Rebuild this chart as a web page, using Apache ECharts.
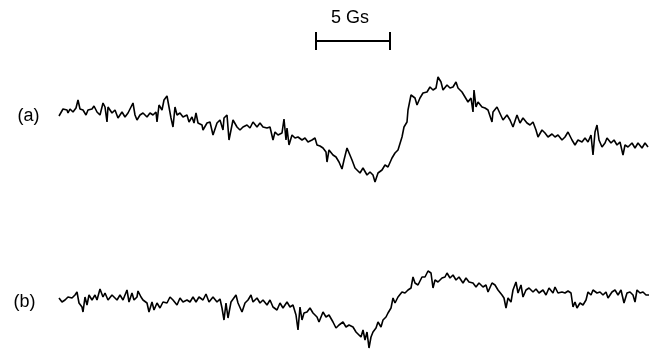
<!DOCTYPE html>
<html>
<head>
<meta charset="utf-8">
<script src="https://cdn.jsdelivr.net/npm/echarts@6/dist/echarts.min.js"></script>
<style>
    html, body { margin: 0; padding: 0; background: #fff; }
    #myChart { width: 655px; height: 351px; }
</style>
</head>
<body>
<div id="myChart"></div>
<script>
    // field position (sample units, 14.8 units = 1 Gs) and signal (a.u.)
    const fieldA = [1, 5, 9, 10, 12, 15, 18, 20, 22, 25, 28, 30, 34, 36, 39, 42, 45, 47, 49, 50,
        54, 57, 60, 64, 67, 70, 75, 77, 79, 82, 85, 89, 92, 95, 98, 99, 101, 104, 106, 109,
        111, 113, 115, 117, 119, 122, 125, 129, 131, 134, 136, 138, 140, 144, 145, 149, 151, 152, 155, 159,
        162, 165, 166, 169, 171, 174, 175, 179, 182, 185, 189, 192, 195, 199, 202, 205, 209, 212, 215, 217,
        220, 224, 226, 228, 229, 231, 234, 237, 240, 244, 247, 250, 254, 257, 259, 262, 265, 268, 269, 271,
        275, 278, 281, 284, 286, 289, 291, 294, 295, 297, 299, 302, 305, 309, 312, 315, 317, 320, 324, 327,
        330, 334, 337, 340, 344, 346, 349, 350, 353, 355, 357, 359, 362, 365, 369, 372, 375, 378, 380, 383,
        385, 389, 392, 395, 398, 400, 404, 407, 410, 413, 415, 416, 418, 420, 424, 427, 430, 434, 435, 439,
        441, 445, 449, 452, 455, 459, 462, 465, 469, 472, 475, 478, 480, 484, 487, 490, 494, 497, 500, 504,
        507, 510, 514, 517, 520, 524, 527, 530, 533, 535, 537, 539, 541, 544, 547, 549, 553, 556, 559, 562,
        565, 567, 570, 574, 577, 580, 584, 587, 590];
    const signalA = [14, 21, 20, 17, 21, 18, 22, 30, 21, 20, 15, 20, 21, 24, 18, 15, 27, 23, 8, 23,
        17, 20, 12, 18, 13, 17, 27, 15, 10, 15, 17, 13, 17, 15, 18, 8, 25, 20, 30, 34,
        23, 12, 3, 23, 15, 17, 13, 15, 8, 13, 7, 17, 7, 5, 0, 7, 5, 8, -5, 7,
        10, 0, 12, 15, -10, 5, 10, 3, 0, 3, 5, 2, 8, 3, 7, 3, 2, 3, -10, -2,
        -5, -3, 11, -10, 2, -15, -5, -8, -7, -10, -8, -12, -10, -8, -15, -16, -18, -22, -32, -20,
        -25, -27, -32, -39, -30, -18, -17, -30, -28, -38, -37, -43, -38, -45, -42, -45, -52, -43, -40, -35,
        -37, -28, -23, -20, -7, 3, 8, 20, 35, 37, 32, 25, 32, 37, 38, 43, 40, 42, 53, 48,
        40, 45, 42, 43, 48, 42, 38, 33, 28, 32, 18, 40, 23, 28, 23, 22, 20, 8, 18, 23,
        25, 10, 15, 10, 3, 15, 7, 12, 7, 5, 8, 0, -7, 0, -3, -7, -4, -7, -5, -10,
        -7, -2, -10, -15, -10, -12, -8, -12, -5, -25, -2, 5, -10, -17, -13, -8, -13, -10, -15, -12,
        -25, -15, -17, -13, -18, -13, -18, -13, -17];

    const fieldB = [1, 4, 7, 10, 14, 17, 19, 21, 24, 25, 27, 29, 31, 34, 37, 39, 42, 45, 47, 50,
        54, 56, 59, 62, 65, 69, 71, 74, 76, 79, 80, 83, 85, 89, 91, 94, 96, 99, 102, 105,
        109, 112, 115, 119, 122, 125, 129, 132, 135, 138, 141, 145, 148, 151, 155, 159, 162, 164, 166, 168,
        170, 173, 175, 178, 180, 184, 187, 190, 193, 195, 199, 202, 205, 209, 212, 215, 219, 222, 225, 229,
        232, 235, 238, 240, 242, 244, 246, 249, 252, 255, 259, 261, 265, 268, 271, 275, 278, 281, 285, 288,
        291, 295, 298, 300, 303, 305, 307, 309, 311, 313, 315, 318, 320, 323, 325, 328, 330, 333, 335, 337,
        340, 344, 347, 350, 353, 355, 357, 360, 364, 367, 370, 373, 375, 377, 380, 384, 387, 389, 392, 395,
        398, 401, 405, 408, 411, 415, 418, 421, 425, 428, 430, 434, 437, 440, 444, 446, 448, 450, 453, 455,
        458, 460, 463, 465, 468, 471, 475, 478, 481, 485, 488, 491, 495, 497, 500, 504, 507, 510, 513, 515,
        517, 519, 522, 525, 528, 530, 533, 535, 539, 542, 545, 548, 550, 554, 557, 560, 563, 566, 569, 572,
        575, 577, 579, 582, 585, 588, 591];
    const signalB = [7, 3, 5, 8, 7, 10, 13, 2, -2, -7, 8, 0, 10, 5, 10, 5, 16, 8, 12, 5,
        10, 12, 5, 10, 5, 15, 3, 12, 5, 8, 14, 8, 5, 2, -7, 3, -5, 2, -3, 3,
        2, 8, 5, 0, 7, 3, 5, 3, 8, 3, 8, 5, 11, 3, 8, 3, 6, -3, -15, 2,
        -13, 3, 2, 10, 2, -7, 2, 5, 10, 3, 7, 2, 5, 0, 5, -2, -5, 2, -3, 3,
        -2, 0, -10, -25, -2, -15, -8, -7, -3, -8, -12, -17, -7, -12, -10, -17, -23, -20, -17, -22,
        -20, -22, -27, -28, -32, -25, -35, -27, -43, -32, -27, -23, -17, -22, -15, -12, -8, -3, 7, 2,
        8, 13, 12, 15, 17, 28, 22, 20, 28, 28, 34, 32, 17, 25, 23, 27, 28, 32, 27, 30,
        25, 28, 22, 27, 23, 22, 18, 22, 18, 20, 13, 22, 20, 15, 10, 7, -3, 7, 3, 15,
        23, 12, 20, 8, 15, 17, 13, 16, 12, 15, 10, 17, 12, 18, 12, 13, 12, 14, 12, -2,
        3, -3, 2, 0, 5, 13, 10, 15, 12, 13, 10, 13, 7, 13, 15, 10, 15, 2, 12, 13,
        10, 3, 15, 12, 13, 10, 10];

    // scale bar: 5 Gs
    const barStart = 258;
    const barGauss = 5;
    const unitsPerGauss = 14.8;
    const barLevel = 89;

    const pair = (xs, ys) => xs.map((x, i) => [x, ys[i]]);
    const barEnd = barStart + barGauss * unitsPerGauss;
    const scaleBar = [[barStart, barLevel + 9], [barStart, barLevel - 9], [barStart, barLevel],
        [barEnd, barLevel], [barEnd, barLevel + 9], [barEnd, barLevel - 9]];

    const font = '18px "Liberation Sans", Arial, sans-serif';
    let myChart = echarts.init(document.getElementById('myChart'));
    let option = {
        animation: false,
        backgroundColor: '#fff',
        grid: [
            {left: 58, right: 5, top: 0, height: 200},
            {left: 58, right: 5, top: 250, height: 100}
        ],
        xAxis: [
            {gridIndex: 0, type: 'value', min: 0, max: 592, show: false},
            {gridIndex: 1, type: 'value', min: 0, max: 592, show: false}
        ],
        yAxis: [
            {gridIndex: 0, type: 'value', min: -70, max: 130, show: false},
            {gridIndex: 1, type: 'value', min: -45, max: 55, show: false}
        ],
        series: [
            {
                name: '(a)', type: 'line', xAxisIndex: 0, yAxisIndex: 0,
                data: pair(fieldA, signalA), symbol: 'none',
                lineStyle: {color: '#000', width: 1.6}
            },
            {
                name: '(b)', type: 'line', xAxisIndex: 1, yAxisIndex: 1,
                data: pair(fieldB, signalB), symbol: 'none',
                lineStyle: {color: '#000', width: 1.6}
            },
            {
                name: 'bar', type: 'line', xAxisIndex: 0, yAxisIndex: 0,
                data: scaleBar, symbol: 'none',
                lineStyle: {color: '#000', width: 2}
            }
        ],
        graphic: [
            {type: 'text', x: 350, y: 18, style: {text: '5 Gs', font: font, fill: '#000', align: 'center', verticalAlign: 'middle'}},
            {type: 'text', x: 28.5, y: 116, style: {text: '(a)', font: font, fill: '#000', align: 'center', verticalAlign: 'middle'}},
            {type: 'text', x: 24.5, y: 302, style: {text: '(b)', font: font, fill: '#000', align: 'center', verticalAlign: 'middle'}}
        ]
    };
    myChart.setOption(option);
</script>
</body>
</html>
